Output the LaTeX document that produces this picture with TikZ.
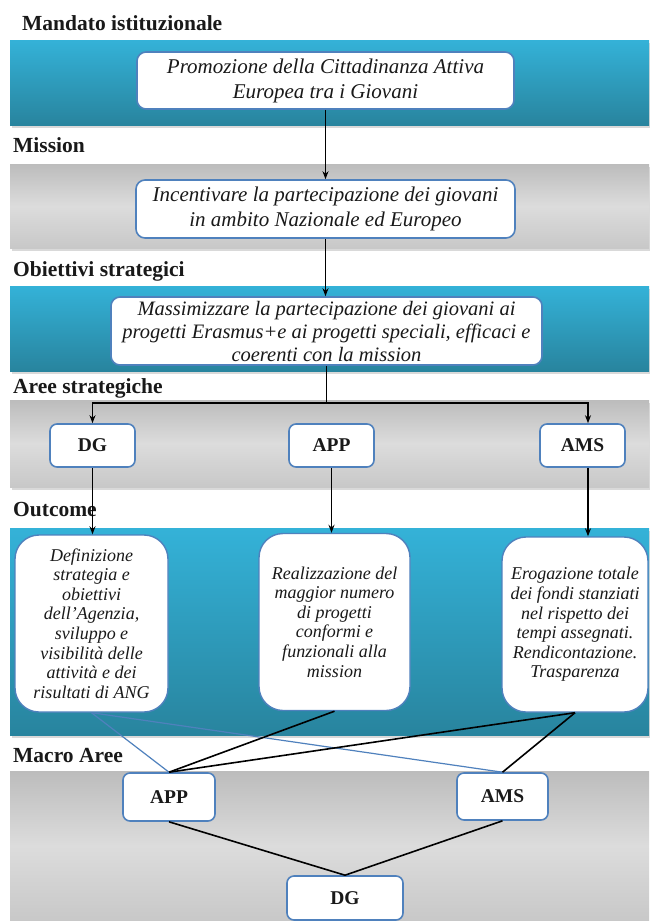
\documentclass[tikz,border=0pt]{standalone}
\usepackage{fontspec}
\setmainfont{Liberation Serif}
\usetikzlibrary{arrows.meta,calc}

\definecolor{bluetop}{RGB}{52,178,216}
\definecolor{bluebot}{RGB}{40,132,158}
\definecolor{graytop}{RGB}{188,188,188}
\definecolor{graymid}{RGB}{220,220,220}
\definecolor{graybot}{RGB}{200,200,200}
\definecolor{boxline}{RGB}{79,129,189}
\definecolor{txt}{RGB}{25,25,25}

\tikzset{
 bandblue/.style={top color=bluetop, bottom color=bluebot, draw=none},
 bandgray/.style={top color=graytop, bottom color=graybot, middle color=graymid, draw=none},
 bandshadow/.style={fill=black, opacity=0.15, draw=none},
 lbl/.style={anchor=base west, inner sep=0pt, font=\fontsize{21.5}{25}\selectfont\bfseries, text=txt},
 ibox/.style={draw=boxline, line width=1.6pt, fill=white, rounded corners=9pt, align=center, font=\fontsize{21}{25}\selectfont\itshape, text=txt, inner sep=0pt},
 sbox/.style={draw=boxline, line width=1.6pt, fill=white, rounded corners=7pt, align=center, font=\fontsize{19.5}{23}\selectfont\bfseries, text=txt, inner sep=0pt},
 obox/.style={draw=boxline, line width=1.4pt, fill=white, rounded corners=24pt, align=center, font=\fontsize{18}{19.6}\selectfont\itshape, text=txt, inner sep=0pt},
 arr/.style={draw=black, line width=1.6pt, -{Stealth[length=8pt,width=6pt]}},
 conn/.style={draw=black, line width=1.6pt},
 bconn/.style={draw=boxline, line width=1.2pt},
}

\begin{document}
\begin{tikzpicture}[x=1pt,y=-1pt]
\useasboundingbox (0,0) rectangle (649,921);
\fill[white] (0,0) rectangle (649,921);

% bands
\fill[bandshadow] (12,43) rectangle (651,128);
\shade[bandblue] (10,40) rectangle (649,125);
\fill[bandshadow] (12,167) rectangle (651,251);
\shade[bandgray] (10,164) rectangle (649,248);
\fill[bandshadow] (12,289) rectangle (651,374);
\shade[bandblue] (10,286) rectangle (649,371);
\fill[bandshadow] (12,403) rectangle (651,490);
\shade[bandgray] (10,400) rectangle (649,487);
\fill[bandshadow] (12,531) rectangle (651,738);
\shade[bandblue] (10,528) rectangle (649,735);
\shade[bandgray] (10,771) rectangle (649,921);

% labels
\node[lbl] (t1) at (22,30) {Mandato istituzionale};
\node[lbl] (t2) at (13,152) {Mission};
\node[lbl] (t3) at (13,276) {Obiettivi strategici};
\node[lbl] (t4) at (13,393) {Aree strategiche};
\node[lbl] (t5) at (13,516) {Outcome};
\node[lbl] (t6) at (13,762) {Macro Aree};

% main boxes
\node[ibox, minimum width=377pt, minimum height=57pt] (m1) at (325.5,80.5) {Promozione della Cittadinanza Attiva\\Europea tra i Giovani};
\node[ibox, minimum width=379pt, minimum height=58pt] (m2) at (325.5,209) {Incentivare la partecipazione dei giovani\\in ambito Nazionale ed Europeo};
\node[ibox, minimum width=431pt, minimum height=68pt, font=\fontsize{20.5}{23}\selectfont\itshape] (m3) at (326.5,331) {Massimizzare la partecipazione dei giovani ai\\progetti Erasmus+e ai progetti speciali, efficaci e\\coerenti con la mission};

% strategic areas
\node[sbox, minimum width=85pt, minimum height=43pt] (sdg) at (92.5,445.5) {DG};
\node[sbox, minimum width=85pt, minimum height=43pt] (sapp) at (331.5,445.5) {APP};
\node[sbox, minimum width=85pt, minimum height=43pt] (sams) at (582.5,445.5) {AMS};

% outcomes
\node[obox, minimum width=153pt, minimum height=177pt] (odg) at (91.5,623.5) {Definizione\\strategia e\\obiettivi\\dell’Agenzia,\\sviluppo e\\visibilità delle\\attività e dei\\risultati di ANG};
\node[obox, minimum width=151pt, minimum height=177pt] (oapp) at (334.5,622) {Realizzazione del\\maggior numero\\di progetti\\conformi e\\funzionali alla\\mission};
\node[obox, minimum width=146pt, minimum height=175pt] (oams) at (575,624.5) {Erogazione totale\\dei fondi stanziati\\nel rispetto dei\\tempi assegnati.\\Rendicontazione.\\Trasparenza};

% macro areas
\node[sbox, minimum width=92pt, minimum height=48pt] (mapp) at (169,797) {APP};
\node[sbox, minimum width=91pt, minimum height=47pt] (mams) at (502.5,796.5) {AMS};
\node[sbox, minimum width=116pt, minimum height=44pt] (mdg) at (345,898) {DG};

% connectors
\coordinate (xa) at (588,0);
\coordinate (br) at (m3.south |- 0,403);
\draw[arr] (m1.south) -- (m1.south |- m2.north);
\draw[arr] (m2.south) -- (m2.south |- m3.north);
\draw[conn] (m3.south) -- (br);
\draw[arr] (br) -| (sdg.north);
\draw[arr] (br) -| (sams.north -| xa);
\draw[arr] (sdg.south) -- (sdg.south |- odg.north);
\draw[arr] (sapp.south) -- (sapp.south |- oapp.north);
\draw[arr] (sams.south -| xa) -- (xa |- oams.north);

\draw[bconn] (odg.south) -- (mapp.north);
\draw[bconn] (odg.south) -- (mams.north);
\draw[conn] (oapp.south) -- (mapp.north);
\draw[conn] (oams.south) -- (mapp.north);
\draw[conn] (oams.south) -- (mams.north);
\draw[conn] (mapp.south) -- (mdg.north);
\draw[conn] (mams.south) -- (mdg.north);
\end{tikzpicture}
\end{document}
